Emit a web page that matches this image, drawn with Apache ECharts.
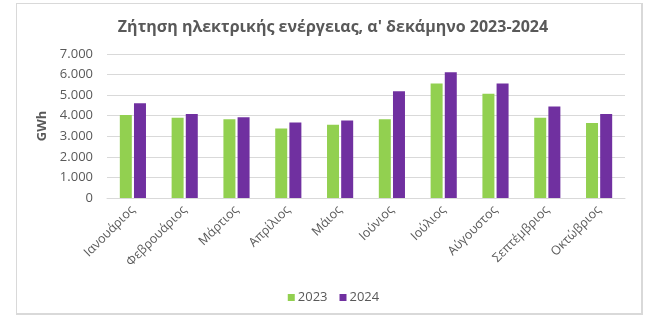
<!DOCTYPE html>
<html>
<head>
<meta charset="utf-8">
<script src="https://cdn.jsdelivr.net/npm/echarts@6/dist/echarts.min.js"></script>
<style>
  html, body { margin: 0; padding: 0; background: #fff; }
  #frame { position: absolute; left: 16px; top: 3px; width: 624px; height: 309px; border: 1px solid #d9d9d9; border-right-width: 2px; border-bottom-width: 2px; }
  #chart { position: absolute; left: 0; top: 0; width: 667px; height: 324px; }
</style>
</head>
<body>
<div id="frame"></div>
<div id="chart"></div>
<script>
// Monthly electricity demand (GWh), first ten months
const months = ['Ιανουάριος', 'Φεβρουάριος', 'Μάρτιος', 'Απρίλιος', 'Μάιος', 'Ιούνιος', 'Ιούλιος', 'Αύγουστος', 'Σεπτέμβριος', 'Οκτώβριος'];
const demand2023 = [4040, 3900, 3830, 3380, 3560, 3830, 5560, 5070, 3900, 3640];
const demand2024 = [4600, 4080, 3930, 3670, 3770, 5190, 6110, 5560, 4450, 4080];
const seriesNames = ['2023', '2024'];

const fontFamily = '"Open Sans", "Noto Sans", sans-serif';
const textGrey = '#595959';

// thousands separator with a dot
const formatThousands = v => String(v).replace(/\B(?=(\d{3})+(?!\d))/g, '.');

const chart = echarts.init(document.getElementById('chart'), null, { renderer: 'canvas' });
chart.setOption({
  animation: false,
  backgroundColor: 'transparent',
  textStyle: { fontFamily: fontFamily },
  title: {
    text: 'Ζήτηση ηλεκτρικής ενέργειας, α\' δεκάμηνο 2023-2024',
    left: 328,
    textAlign: 'center',
    top: 14,
    textStyle: { fontFamily: fontFamily, fontSize: 16, fontWeight: 'bold', color: textGrey }
  },
  legend: {
    data: seriesNames,
    left: 'center',
    top: 286,
    itemWidth: 7,
    itemHeight: 7,
    itemGap: 12,
    icon: 'rect',
    textStyle: { fontFamily: fontFamily, fontSize: 13, color: textGrey, padding: [0, 0, 0, -2] }
  },
  grid: { left: 107, right: 42, top: 54, bottom: 126 },
  xAxis: {
    type: 'category',
    data: months,
    axisLine: { lineStyle: { color: '#d9d9d9', width: 1 } },
    axisTick: { show: false },
    axisLabel: { rotate: 45, margin: 10, fontSize: 12.5, color: textGrey, fontFamily: fontFamily, interval: 0 }
  },
  yAxis: {
    type: 'value',
    min: 0,
    max: 7000,
    interval: 1000,
    name: 'GWh',
    nameLocation: 'middle',
    nameGap: 53,
    nameRotate: 90,
    nameTextStyle: { fontFamily: fontFamily, fontSize: 13, fontWeight: 'bold', color: textGrey },
    axisLine: { show: false },
    axisTick: { show: false },
    axisLabel: {
      margin: 14,
      fontSize: 13,
      color: textGrey,
      fontFamily: fontFamily,
      formatter: formatThousands
    },
    splitLine: { lineStyle: { color: '#d9d9d9', width: 1 } }
  },
  series: [
    {
      name: seriesNames[0],
      type: 'bar',
      data: demand2023,
      barWidth: 12,
      barGap: '18%',
      itemStyle: { color: '#92d050' }
    },
    {
      name: seriesNames[1],
      type: 'bar',
      data: demand2024,
      barWidth: 12,
      barGap: '18%',
      itemStyle: { color: '#7030a0' }
    }
  ]
});
</script>
</body>
</html>
